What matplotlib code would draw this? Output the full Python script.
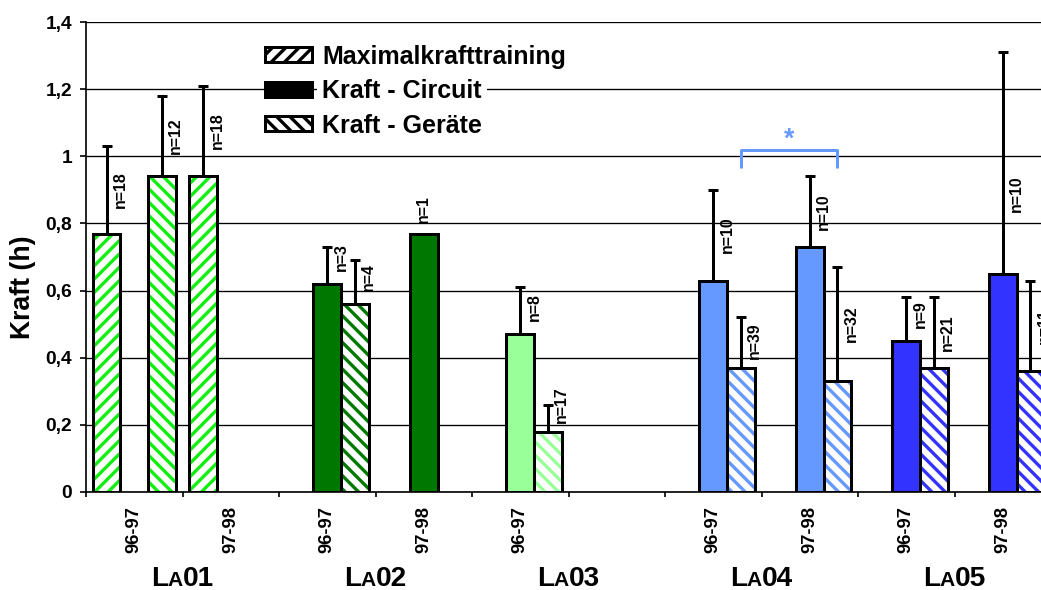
import numpy as np
import matplotlib.pyplot as plt
from matplotlib.patches import Patch
from matplotlib.offsetbox import TextArea, HPacker, AnnotationBbox

plt.rcParams['font.family'] = ['Liberation Sans', 'DejaVu Sans']
plt.rcParams['font.weight'] = 'bold'
plt.rcParams['hatch.linewidth'] = 2.0

nan = np.nan

# ten slots, two seasons per group
seasons = ["96-97", "97-98", "96-97", "97-98", "96-97", "", "96-97", "97-98", "96-97", "97-98"]
groups = ["01", "02", "03", "04", "05"]
group_colors = ['#11ee11', '#007800', '#99ff99', '#6699ff', '#3333ff']

# Maximalkrafttraining
max_val = [0.77, 0.94, nan, nan, nan, nan, nan, nan, nan, nan]
max_err = [0.26, 0.27, 0, 0, 0, 0, 0, 0, 0, 0]
max_n = [18, 18, 0, 0, 0, 0, 0, 0, 0, 0]

# Kraft - Circuit
circ_val = [nan, nan, 0.62, 0.77, 0.47, nan, 0.63, 0.73, 0.45, 0.65]
circ_err = [0, 0, 0.11, 0, 0.14, 0, 0.27, 0.21, 0.13, 0.66]
circ_n = [0, 0, 3, 1, 8, 0, 10, 10, 9, 10]

# Kraft - Geräte
ger_val = [0.94, nan, 0.56, nan, 0.18, nan, 0.37, 0.33, 0.37, 0.36]
ger_err = [0.24, 0, 0.13, 0, 0.08, 0, 0.15, 0.34, 0.21, 0.27]
ger_n = [12, 0, 4, 0, 17, 0, 39, 32, 21, 11]

ytick_vals = [0, 0.2, 0.4, 0.6, 0.8, 1.0, 1.2, 1.4]
ytick_text = ["0", "0,2", "0,4", "0,6", "0,8", "1", "1,2", "1,4"]

width = 0.285
centers = [0.215, 0.5, 0.785]
series = [
    (max_val, max_err, max_n, '///'),
    (circ_val, circ_err, circ_n, None),
    (ger_val, ger_err, ger_n, '\\\\\\'),
]

fig = plt.figure(figsize=(1041 / 120, 590 / 120), dpi=120)
ax = fig.add_axes([86 / 1041, 1 - 492 / 590, 965 / 1041, 470 / 590])

for j, (vals, errs, ns, hatch) in enumerate(series):
    for i in range(len(seasons)):
        v = vals[i]
        if np.isnan(v):
            continue
        x = i + centers[j]
        col = group_colors[i // 2]
        if hatch:
            ax.bar(x, v, width, color='white', edgecolor=col, hatch=hatch,
                   linewidth=0, zorder=3)
            ax.bar(x, v, width, fill=False, edgecolor='black', linewidth=1.8, zorder=4)
        else:
            ax.bar(x, v, width, color=col, edgecolor='black', linewidth=1.8, zorder=3)
        e = errs[i]
        if e > 0:
            ax.errorbar(x, v, yerr=[[0], [e]], fmt='none', ecolor='black',
                        elinewidth=1.8, capsize=3, capthick=1.8, zorder=5)
            # sample size sits beside the error bar, clear of the bar top
            ylab = min(max(v + e / 2, v + 0.08), v + 0.24)
            ax.text(x + 0.145, ylab, f"n={ns[i]}", rotation=90, fontsize=9.5,
                    ha='center', va='center', zorder=6)
        else:
            ax.text(x, v + 0.03, f"n={ns[i]}", rotation=90, fontsize=9.5,
                    ha='center', va='bottom', zorder=6)

# significance bracket between the two LA04 Geräte bars
x1, x2 = 6 + centers[2], 7 + centers[2]
blue = group_colors[3]
ax.plot([x1, x1, x2, x2], [0.965, 1.02, 1.02, 0.965], color=blue, lw=1.8,
        solid_capstyle='butt', zorder=6)
ax.text((x1 + x2) / 2, 1.01, "*", color=blue, fontsize=16, ha='center', va='bottom')

ax.set_xlim(0, len(seasons))
ax.set_ylim(0, 1.4)
ax.set_xticks(np.arange(0, len(seasons) + 1))
ax.set_xticklabels([])
ax.set_xticks(np.arange(len(seasons)) + 0.5, minor=True)
ax.set_xticklabels(seasons, minor=True, rotation=90, fontsize=11, va='top')
ax.tick_params(axis='x', which='major', length=3, width=1, direction='out')
ax.tick_params(axis='x', which='minor', length=0, pad=8.5)
ax.set_yticks(ytick_vals)
ax.set_yticklabels(ytick_text, fontsize=11.5)
ax.tick_params(axis='y', length=3.6, width=1, pad=4.8)

ax.yaxis.grid(True, color='black', lw=0.8)
ax.set_axisbelow(True)
for s in ['top', 'right']:
    ax.spines[s].set_visible(False)
ax.spines['left'].set_linewidth(1)
ax.spines['bottom'].set_linewidth(1)

ax.set_ylabel("Kraft (h)", fontsize=16, fontweight='bold')
ax.yaxis.set_label_coords(-0.052, 0.436)

# group names in small caps: L + small A + number
for g, num in enumerate(groups):
    parts = [TextArea("L", textprops=dict(fontsize=16.8, fontweight='bold')),
             TextArea("A", textprops=dict(fontsize=12.6, fontweight='bold')),
             TextArea(num, textprops=dict(fontsize=16.8, fontweight='bold'))]
    box = HPacker(children=parts, align='baseline', pad=0, sep=0)
    ab = AnnotationBbox(box, (2 * g + 1, -0.185), xycoords=ax.get_xaxis_transform(),
                        frameon=False, box_alignment=(0.5, 0.5), annotation_clip=False)
    ax.add_artist(ab)

handles = [Patch(facecolor='white', edgecolor='black', hatch='///', lw=1.8),
           Patch(facecolor='black', edgecolor='black', lw=1.8),
           Patch(facecolor='white', edgecolor='black', hatch='\\\\\\', lw=1.8)]
leg = ax.legend(handles, ["Maximalkrafttraining", "Kraft - Circuit", "Kraft - Geräte"],
                loc='upper left', bbox_to_anchor=(0.1855, 0.952), fontsize=15,
                handlelength=1.88, handleheight=0.56, handletextpad=0.4,
                labelspacing=0.42, borderpad=0, borderaxespad=0, frameon=False)
for t in leg.get_texts():
    t.set_bbox(dict(facecolor='white', edgecolor='none', pad=3))

fig.savefig("out.png", dpi=120)
